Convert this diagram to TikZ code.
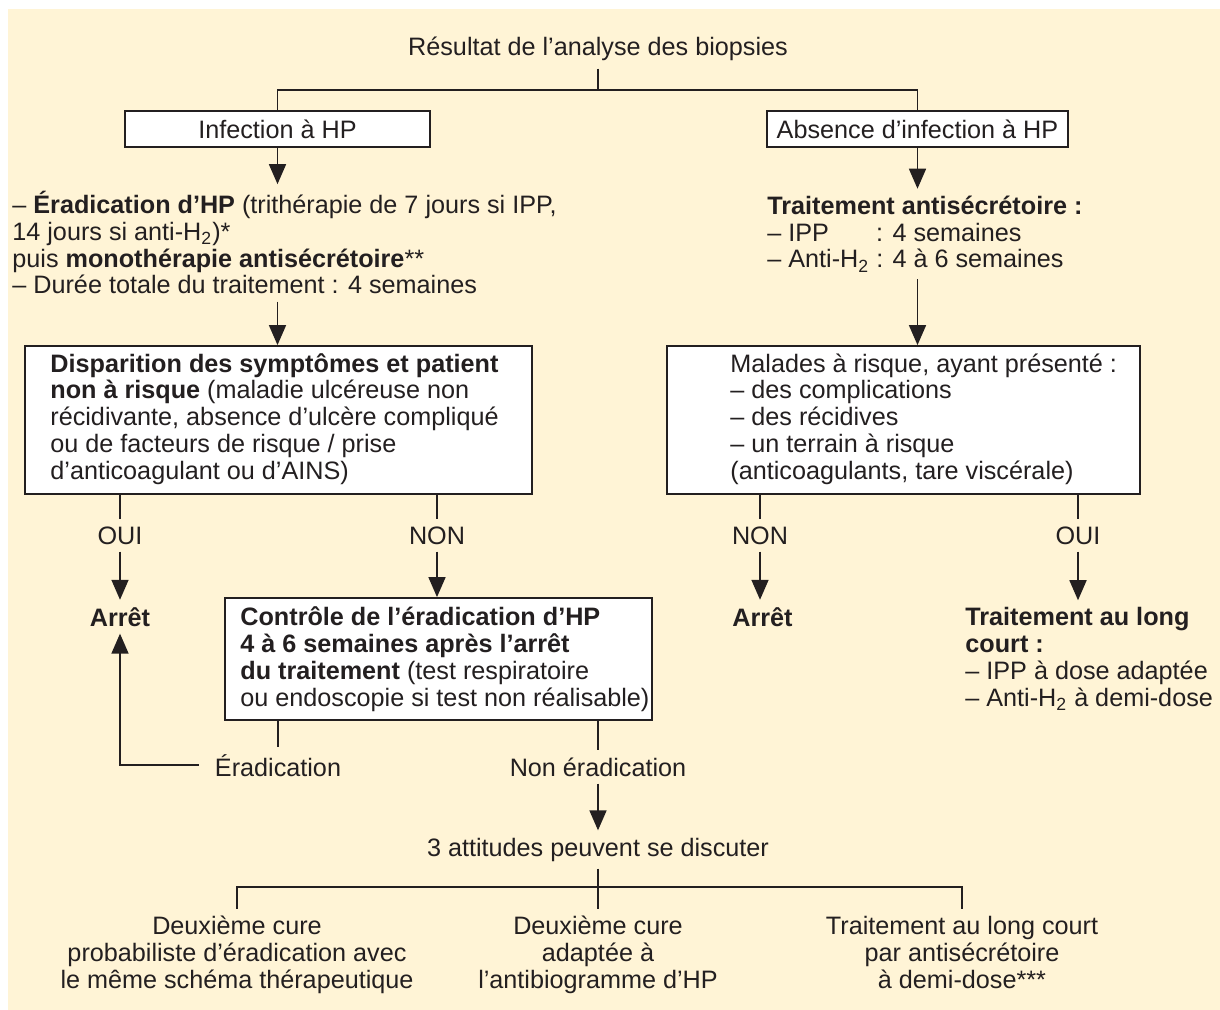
\documentclass[tikz,border=0pt]{standalone}
\usepackage{fontspec}
\setmainfont{Liberation Sans}
\usetikzlibrary{arrows.meta,calc}
\definecolor{bg}{RGB}{255,244,214}
\definecolor{ink}{RGB}{35,31,32}
\begin{document}
\begin{tikzpicture}[x=0.5pt,y=-0.5pt,
  every node/.style={font=\fontsize{12.6pt}{13.35pt}\selectfont, text=ink},
  boxnode/.style={draw=ink, fill=white, line width=0.9pt, align=left, inner sep=0pt},
  txt/.style={inner xsep=0pt, inner ysep=3.5pt, align=left},
  lbl/.style={inner sep=3.5pt},
  conn/.style={draw=ink, line width=0.8pt},
  arr/.style={conn, -{Triangle[length=10pt,width=8.5pt]}}]
\useasboundingbox (0,0) rectangle (1220,1010);
\fill[bg] (8,9) rectangle (1220,1010);

% top
\node[lbl, anchor=base] (title) at (598,56) {Résultat de l’analyse des biopsies};
\coordinate (split1) at (598,90);
\node[boxnode, minimum width=152.5pt, minimum height=18pt] (inf) at (277.5,129) {Infection à HP};
\node[boxnode, minimum width=150.5pt, minimum height=18pt] (abs) at (917.5,129) {Absence d’infection à HP};
\draw[conn] (title.south) -- (split1);
\draw[conn] (split1) -| (inf.north);
\draw[conn] (split1) -| (abs.north);

% left branch text (anchored at the baseline of its last line)
\node[txt, anchor=base west] (erad) at (12,294) {– \textbf{Éradication d’HP} (trithérapie de 7 jours si IPP,\\14 jours si anti-H\textsubscript{2})*\\puis \textbf{monothérapie antisécrétoire}**\\– Durée totale du traitement : 4 semaines};
\draw[arr] (inf.south) -- (inf.south |- erad.north);

% right branch text
\node[txt, anchor=base west] (trt) at (767,268) {\textbf{Traitement antisécrétoire :}\\\rlap{– IPP}\phantom{– Anti-H\textsubscript{2} }: 4 semaines\\– Anti-H\textsubscript{2} : 4 à 6 semaines};
\draw[arr] (abs.south) -- (abs.south |- trt.north);

% boxes
\node[boxnode, minimum width=253.5pt, minimum height=74pt] (dis) at (278.5,420) {};
\node[txt, anchor=base west] (distxt) at (50,479) {\textbf{Disparition des symptômes et patient}\\\textbf{non à risque} (maladie ulcéreuse non\\récidivante, absence d’ulcère compliqué\\ou de facteurs de risque / prise\\d’anticoagulant ou d’AINS)};
\node[boxnode, minimum width=236.5pt, minimum height=74pt] (mal) at (903.5,420) {};
\node[txt, anchor=base west] (maltxt) at (730,479) {Malades à risque, ayant présenté :\\– des complications\\– des récidives\\– un terrain à risque\\(anticoagulants, tare viscérale)};
\draw[arr] (inf.south |- erad.south) -- (dis.north -| inf.south);
\draw[arr] (abs.south |- trt.south) -- (mal.north -| abs.south);

% labels
\node[lbl, anchor=base] (oui1) at (120,544) {OUI};
\node[lbl, anchor=base] (non1) at (437,544) {NON};
\node[lbl, anchor=base] (non2) at (760,544) {NON};
\node[lbl, anchor=base] (oui2) at (1078,544) {OUI};
\draw[conn] (dis.south -| oui1) -- (oui1.north);
\draw[conn] (dis.south -| non1) -- (non1.north);
\draw[conn] (mal.south -| non2) -- (non2.north);
\draw[conn] (mal.south -| oui2) -- (oui2.north);

% outcomes
\node[lbl, anchor=base] (arr1) at (120,626) {\textbf{Arrêt}};
\node[lbl, anchor=base west] (arr2) at (725,626) {\textbf{Arrêt}};
\node[boxnode, minimum width=213.5pt, minimum height=61pt] (ctl) at (438.5,659) {};
\node[txt, anchor=base west] (ctltxt) at (240,706) {\textbf{Contrôle de l’éradication d’HP}\\\textbf{4 à 6 semaines après l’arrêt}\\\textbf{du traitement} (test respiratoire\\ou endoscopie si test non réalisable)};
\node[txt, anchor=base west] (lt) at (965,706) {\textbf{Traitement au long}\\\textbf{court :}\\– IPP à dose adaptée\\– Anti-H\textsubscript{2} à demi-dose};
\draw[arr] (oui1.south) -- (arr1.north);
\draw[arr] (non1.south) -- (ctl.north -| non1);
\draw[arr] (non2.south) -- (non2.south |- arr2.north);
\draw[arr] (oui2.south) -- (oui2.south |- lt.north);

% eradication control
\node[lbl, anchor=base] (erd) at (278,776) {Éradication};
\node[lbl, anchor=base] (nerd) at (598,776) {Non éradication};
\draw[conn] (ctl.south -| erd) -- (erd.north);
\draw[conn] (ctl.south -| nerd) -- (nerd.north);
\draw[arr] ([xshift=-4.5pt]erd.west) -| (arr1.south);

\node[lbl, anchor=base] (att) at (598,856) {3 attitudes peuvent se discuter};
\draw[arr] (nerd.south) -- (att.north);
\coordinate (split2) at (598,887);
\node[txt, align=center, anchor=base] (b1) at (237,988) {Deuxième cure\\probabiliste d’éradication avec\\le même schéma thérapeutique};
\node[txt, align=center, anchor=base] (b2) at (598,988) {Deuxième cure\\adaptée à\\l’antibiogramme d’HP};
\node[txt, align=center, anchor=base] (b3) at (962,988) {Traitement au long court\\par antisécrétoire\\à demi-dose***};
\draw[conn] (att.south) -- (split2);
\draw[conn] (split2) -| (b1.north);
\draw[conn] (split2) -- (b2.north);
\draw[conn] (split2) -| (b3.north);
\end{tikzpicture}
\end{document}
